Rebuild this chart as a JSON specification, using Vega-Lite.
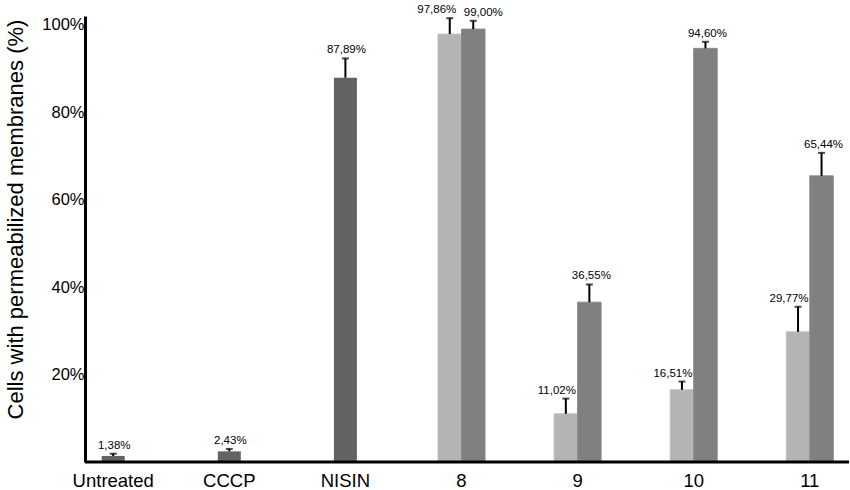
{
  "$schema": "https://vega.github.io/schema/vega-lite/v6.json",
  "width": 764,
  "height": 446,
  "padding": {"left": 4, "top": 4, "right": 0, "bottom": 0},
  "config": {"view": {"stroke": null}, "font": "Liberation Sans"},
  "data": {
    "values": [
      {"group": "Untreated", "series": "control", "value": 1.38, "top": 1.9, "label": "1,38%"},
      {"group": "CCCP", "series": "control", "value": 2.43, "top": 3.0, "label": "2,43%"},
      {"group": "NISIN", "series": "control", "value": 87.89, "top": 92.3, "label": "87,89%"},
      {"group": "8", "series": "light", "value": 97.86, "top": 101.5, "label": "97,86%"},
      {"group": "8", "series": "dark", "value": 99.0, "top": 100.9, "label": "99,00%"},
      {"group": "9", "series": "light", "value": 11.02, "top": 14.5, "label": "11,02%"},
      {"group": "9", "series": "dark", "value": 36.55, "top": 40.6, "label": "36,55%"},
      {"group": "10", "series": "light", "value": 16.51, "top": 18.4, "label": "16,51%"},
      {"group": "10", "series": "dark", "value": 94.6, "top": 96.1, "label": "94,60%"},
      {"group": "11", "series": "light", "value": 29.77, "top": 35.5, "label": "29,77%"},
      {"group": "11", "series": "dark", "value": 65.44, "top": 70.7, "label": "65,44%"}
    ]
  },
  "encoding": {
    "y": {
      "field": "value", "type": "quantitative",
      "scale": {"domain": [0, 102], "nice": false},
      "axis": {
        "title": "Cells with permeabilized membranes (%)",
        "titleFontSize": 22, "titleFontWeight": "normal", "titleColor": "black",
        "titlePadding": 14, "titleY": 203,
        "values": [0, 20, 40, 60, 80, 100],
        "labelExpr": "datum.value == 0 ? '' : datum.value + '%'",
        "labelFontSize": 16.5, "labelColor": "black", "labelPadding": 1,
        "ticks": false, "grid": false,
        "domainColor": "black", "domainWidth": 3
      }
    }
  },
  "layer": [
    {
      "transform": [{"filter": "datum.series == 'control'"}],
      "encoding": {
        "x": {
          "field": "group", "type": "nominal",
          "sort": ["Untreated", "CCCP", "NISIN", "8", "9", "10", "11"],
          "scale": {"domain": ["Untreated", "CCCP", "NISIN", "8", "9", "10", "11"],
                    "range": [0, 753], "paddingInner": 0.595, "paddingOuter": 0.0405},
          "axis": {"title": null, "domain": false, "ticks": false, "labelAngle": 0,
                   "labelFontSize": 18.5, "labelColor": "black", "labelPadding": 9}
        }
      },
      "layer": [
        {"mark": {"type": "bar", "width": 23, "color": "#636363"}},
        {"mark": {"type": "rule", "color": "black", "strokeWidth": 2},
         "encoding": {"y": {"field": "top", "type": "quantitative"}, "y2": {"field": "value"}}},
        {"mark": {"type": "tick", "color": "black", "size": 7, "thickness": 2},
         "encoding": {"y": {"field": "top", "type": "quantitative"}}},
        {"mark": {"type": "text", "baseline": "bottom", "dy": -3, "dx": 1, "fontSize": 11.5, "color": "black"},
         "encoding": {"y": {"field": "top", "type": "quantitative"}, "text": {"field": "label"}}}
      ]
    },
    {
      "transform": [{"filter": "datum.series != 'control'"}],
      "encoding": {
        "x": {
          "field": "group", "type": "nominal",
          "sort": ["Untreated", "CCCP", "NISIN", "8", "9", "10", "11"],
          "scale": {"domain": ["Untreated", "CCCP", "NISIN", "8", "9", "10", "11"]}
        },
        "xOffset": {"field": "series", "type": "nominal", "sort": ["light", "dark"],
                    "scale": {"paddingInner": 0, "paddingOuter": 0}}
      },
      "layer": [
        {"mark": {"type": "bar", "strokeWidth": 1},
         "encoding": {
           "color": {"field": "series", "type": "nominal", "legend": null,
                     "scale": {"domain": ["light", "dark"], "range": ["#b4b4b4", "#808080"]}},
           "stroke": {"field": "series", "type": "nominal", "legend": null,
                      "scale": {"domain": ["light", "dark"], "range": ["#c2c2c2", "#8a8a8a"]}}
         }},
        {"mark": {"type": "rule", "color": "black", "strokeWidth": 2},
         "encoding": {"y": {"field": "top", "type": "quantitative"}, "y2": {"field": "value"}}},
        {"mark": {"type": "tick", "color": "black", "size": 7, "thickness": 2},
         "encoding": {"y": {"field": "top", "type": "quantitative"}}},
        {"transform": [{"filter": "datum.series == 'light' && datum.group != '8'"}],
         "mark": {"type": "text", "baseline": "bottom", "dy": -3, "dx": -9, "fontSize": 11.5, "color": "black"},
         "encoding": {"y": {"field": "top", "type": "quantitative"}, "text": {"field": "label"}}},
        {"transform": [{"filter": "datum.series == 'dark' && datum.group != '8'"}],
         "mark": {"type": "text", "baseline": "bottom", "dy": -3, "dx": 2, "fontSize": 11.5, "color": "black"},
         "encoding": {"y": {"field": "top", "type": "quantitative"}, "text": {"field": "label"}}},
        {"transform": [{"filter": "datum.series == 'light' && datum.group == '8'"}],
         "mark": {"type": "text", "baseline": "bottom", "dy": -3, "dx": -13, "fontSize": 11.5, "color": "black"},
         "encoding": {"y": {"field": "top", "type": "quantitative"}, "text": {"field": "label"}}},
        {"transform": [{"filter": "datum.series == 'dark' && datum.group == '8'"}],
         "mark": {"type": "text", "baseline": "bottom", "dy": -3, "dx": 10, "fontSize": 11.5, "color": "black"},
         "encoding": {"y": {"field": "top", "type": "quantitative"}, "text": {"field": "label"}}}
      ]
    },
    {
      "data": {"values": [{"base": 0}]},
      "mark": {"type": "rule", "color": "black", "strokeWidth": 3},
      "encoding": {"y": {"field": "base", "type": "quantitative"}}
    }
  ]
}
